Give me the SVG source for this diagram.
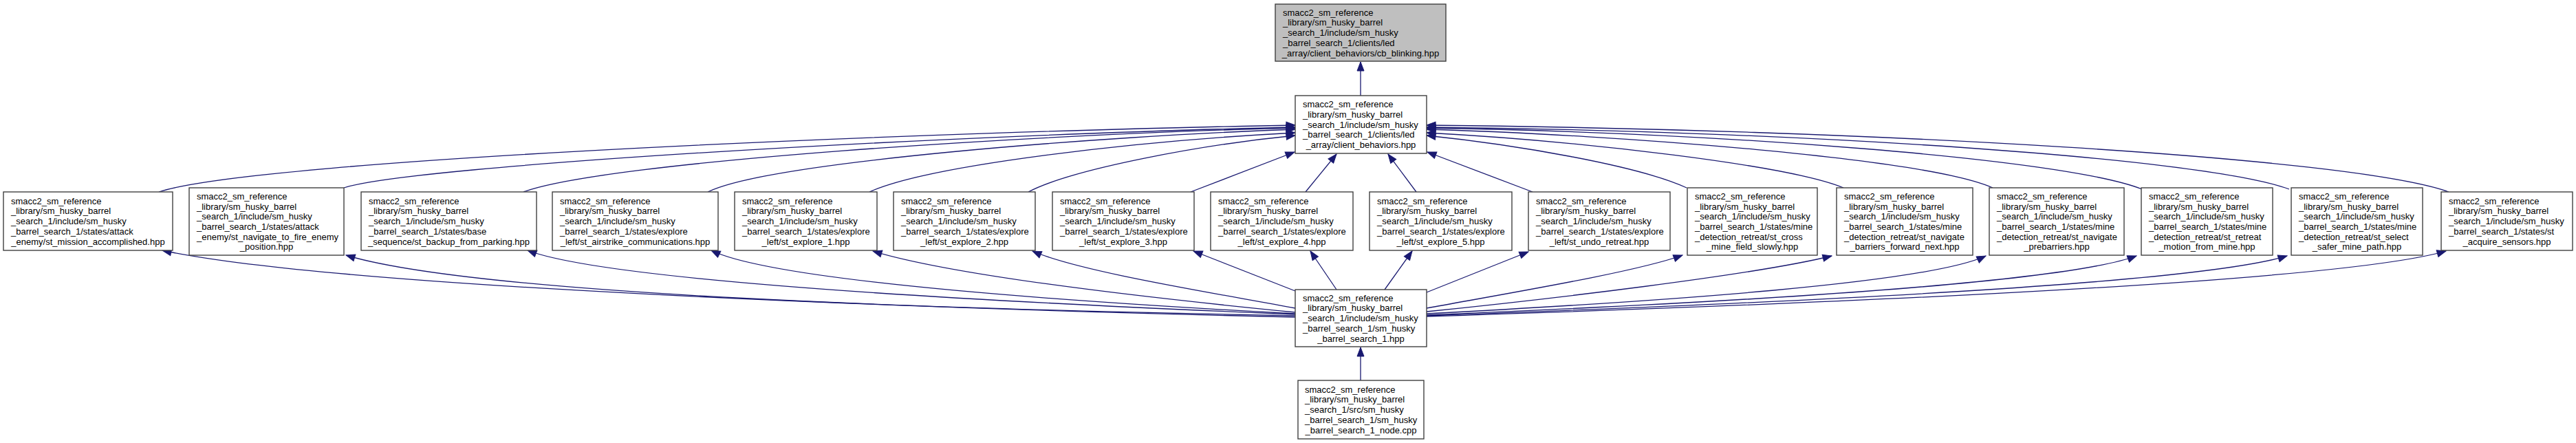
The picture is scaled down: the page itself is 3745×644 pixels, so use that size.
<svg xmlns="http://www.w3.org/2000/svg" width="3745" height="644" viewBox="0 0 3745 644">
<style>
  .n rect { fill: #ffffff; stroke: #404040; stroke-width: 1.4; }
  .n.root rect { fill: #bfbfbf; }
  .n text { font-family: "Liberation Sans", Arial, Helvetica, sans-serif; font-size: 13px; fill: #000000; }
  .n text .c { text-anchor: middle; }
  .e path { fill: none; stroke: #191970; stroke-width: 1.3; marker-end: url(#ah); }
</style>
<defs>
  <marker id="ah" markerUnits="userSpaceOnUse" markerWidth="15" markerHeight="12" viewBox="0 0 15 12" refX="14" refY="6" orient="auto">
    <path d="M1,1 L14,6 L1,11 Z" fill="#191970" stroke="#191970" stroke-width="1"/>
  </marker>
</defs>
<rect x="0" y="0" width="3745" height="644" fill="#ffffff"/>

<g id="edges" class="e">
  <!-- middle -> top -->
  <path d="M1978,139 L1978,90"/>
  <!-- cpp -> hub -->
  <path d="M1978,553 L1978,505"/>
  <!-- row boxes -> client_behaviors.hpp -->
  <path d="M231,279 C380,230 1400,190 1883,182"/>
  <path d="M500,273 C600,240 1400,195 1883,185"/>
  <path d="M761,279 C880,235 1500,195 1883,186"/>
  <path d="M1029,279 C1120,235 1600,198 1883,188"/>
  <path d="M1264,279 C1350,240 1650,205 1883,193"/>
  <path d="M1495,279 C1560,245 1750,210 1883,197"/>
  <path d="M1731,279 L1882,221"/>
  <path d="M1898,279 L1943,224"/>
  <path d="M2059,279 L2018,224"/>
  <path d="M2228,279 L2075,221"/>
  <path d="M2452,273 C2380,240 2200,210 2074,197"/>
  <path d="M2680,273 C2600,240 2300,205 2074,193"/>
  <path d="M2897,273 C2800,230 2350,196 2074,188"/>
  <path d="M3114,275 C3000,230 2500,193 2074,186"/>
  <path d="M3328,275 C3200,228 2600,190 2074,185"/>
  <path d="M3560,279 C3420,228 2700,188 2074,182"/>
  <!-- hub -> row boxes -->
  <path d="M1883,461 C1400,450 500,420 236,364"/>
  <path d="M1883,459 C1400,450 700,430 503,371"/>
  <path d="M1883,457 C1414,438 885,409 767,364"/>
  <path d="M1883,456 C1526,437 1124,408 1034,364"/>
  <path d="M1883,454 C1700,436 1390,402 1269,365"/>
  <path d="M1883,448 C1760,425 1570,395 1501,365"/>
  <path d="M1883,423 L1735,365"/>
  <path d="M1943,421 L1905,365"/>
  <path d="M2013,421 L2053,365"/>
  <path d="M2074,425 L2222,366"/>
  <path d="M2074,448 C2200,425 2380,395 2446,371"/>
  <path d="M2074,453 C2250,435 2550,400 2663,372"/>
  <path d="M2074,456 C2415,438 2801,412 2887,372"/>
  <path d="M2074,458 C2507,440 2996,413 3106,372"/>
  <path d="M2074,459 C2599,440 3192,413 3325,372"/>
  <path d="M2074,460 C2700,440 3400,410 3556,365"/>
</g>

<g id="node_top" class="n root">
  <rect x="1854" y="6" width="248" height="83"/>
  <text><tspan x="1865" y="22.7">smacc2_sm_reference</tspan><tspan x="1865" y="37.4">_library/sm_husky_barrel</tspan><tspan x="1865" y="52.1">_search_1/include/sm_husky</tspan><tspan x="1865" y="66.8">_barrel_search_1/clients/led</tspan><tspan class="c" x="1978" y="81.5">_array/client_behaviors/cb_blinking.hpp</tspan></text>
</g>

<g id="node_client_behaviors" class="n">
  <rect x="1883" y="139" width="191" height="84"/>
  <text><tspan x="1894" y="156.2">smacc2_sm_reference</tspan><tspan x="1894" y="170.9">_library/sm_husky_barrel</tspan><tspan x="1894" y="185.6">_search_1/include/sm_husky</tspan><tspan x="1894" y="200.3">_barrel_search_1/clients/led</tspan><tspan class="c" x="1978.5" y="215">_array/client_behaviors.hpp</tspan></text>
</g>

<g id="node_st_mission_accomplished" class="n">
  <rect x="5" y="279" width="246" height="85"/>
  <text><tspan x="16" y="296.7">smacc2_sm_reference</tspan><tspan x="16" y="311.4">_library/sm_husky_barrel</tspan><tspan x="16" y="326.1">_search_1/include/sm_husky</tspan><tspan x="16" y="340.8">_barrel_search_1/states/attack</tspan><tspan class="c" x="128" y="355.5">_enemy/st_mission_accomplished.hpp</tspan></text>
</g>

<g id="node_st_navigate_to_fire_enemy_position" class="n">
  <rect x="275" y="273" width="225" height="98"/>
  <text><tspan x="286" y="289.9">smacc2_sm_reference</tspan><tspan x="286" y="304.6">_library/sm_husky_barrel</tspan><tspan x="286" y="319.3">_search_1/include/sm_husky</tspan><tspan x="286" y="334">_barrel_search_1/states/attack</tspan><tspan x="286" y="348.7">_enemy/st_navigate_to_fire_enemy</tspan><tspan class="c" x="387.5" y="363.4">_position.hpp</tspan></text>
</g>

<g id="node_st_backup_from_parking" class="n">
  <rect x="525" y="279" width="255" height="85"/>
  <text><tspan x="536" y="296.7">smacc2_sm_reference</tspan><tspan x="536" y="311.4">_library/sm_husky_barrel</tspan><tspan x="536" y="326.1">_search_1/include/sm_husky</tspan><tspan x="536" y="340.8">_barrel_search_1/states/base</tspan><tspan class="c" x="652.5" y="355.5">_sequence/st_backup_from_parking.hpp</tspan></text>
</g>

<g id="node_st_airstrike_communications" class="n">
  <rect x="803" y="279" width="241" height="85"/>
  <text><tspan x="814" y="296.7">smacc2_sm_reference</tspan><tspan x="814" y="311.4">_library/sm_husky_barrel</tspan><tspan x="814" y="326.1">_search_1/include/sm_husky</tspan><tspan x="814" y="340.8">_barrel_search_1/states/explore</tspan><tspan class="c" x="923.5" y="355.5">_left/st_airstrike_communications.hpp</tspan></text>
</g>

<g id="node_st_explore_1" class="n">
  <rect x="1068" y="279" width="207" height="85"/>
  <text><tspan x="1079" y="296.7">smacc2_sm_reference</tspan><tspan x="1079" y="311.4">_library/sm_husky_barrel</tspan><tspan x="1079" y="326.1">_search_1/include/sm_husky</tspan><tspan x="1079" y="340.8">_barrel_search_1/states/explore</tspan><tspan class="c" x="1171.5" y="355.5">_left/st_explore_1.hpp</tspan></text>
</g>

<g id="node_st_explore_2" class="n">
  <rect x="1299" y="279" width="206" height="85"/>
  <text><tspan x="1310" y="296.7">smacc2_sm_reference</tspan><tspan x="1310" y="311.4">_library/sm_husky_barrel</tspan><tspan x="1310" y="326.1">_search_1/include/sm_husky</tspan><tspan x="1310" y="340.8">_barrel_search_1/states/explore</tspan><tspan class="c" x="1402" y="355.5">_left/st_explore_2.hpp</tspan></text>
</g>

<g id="node_st_explore_3" class="n">
  <rect x="1530" y="279" width="206" height="85"/>
  <text><tspan x="1541" y="296.7">smacc2_sm_reference</tspan><tspan x="1541" y="311.4">_library/sm_husky_barrel</tspan><tspan x="1541" y="326.1">_search_1/include/sm_husky</tspan><tspan x="1541" y="340.8">_barrel_search_1/states/explore</tspan><tspan class="c" x="1633" y="355.5">_left/st_explore_3.hpp</tspan></text>
</g>

<g id="node_st_explore_4" class="n">
  <rect x="1760" y="279" width="207" height="85"/>
  <text><tspan x="1771" y="296.7">smacc2_sm_reference</tspan><tspan x="1771" y="311.4">_library/sm_husky_barrel</tspan><tspan x="1771" y="326.1">_search_1/include/sm_husky</tspan><tspan x="1771" y="340.8">_barrel_search_1/states/explore</tspan><tspan class="c" x="1863.5" y="355.5">_left/st_explore_4.hpp</tspan></text>
</g>

<g id="node_st_explore_5" class="n">
  <rect x="1991" y="279" width="207" height="85"/>
  <text><tspan x="2002" y="296.7">smacc2_sm_reference</tspan><tspan x="2002" y="311.4">_library/sm_husky_barrel</tspan><tspan x="2002" y="326.1">_search_1/include/sm_husky</tspan><tspan x="2002" y="340.8">_barrel_search_1/states/explore</tspan><tspan class="c" x="2094.5" y="355.5">_left/st_explore_5.hpp</tspan></text>
</g>

<g id="node_st_undo_retreat" class="n">
  <rect x="2222" y="279" width="206" height="85"/>
  <text><tspan x="2233" y="296.7">smacc2_sm_reference</tspan><tspan x="2233" y="311.4">_library/sm_husky_barrel</tspan><tspan x="2233" y="326.1">_search_1/include/sm_husky</tspan><tspan x="2233" y="340.8">_barrel_search_1/states/explore</tspan><tspan class="c" x="2325" y="355.5">_left/st_undo_retreat.hpp</tspan></text>
</g>

<g id="node_st_cross_mine_field_slowly" class="n">
  <rect x="2453" y="273" width="189" height="98"/>
  <text><tspan x="2464" y="289.9">smacc2_sm_reference</tspan><tspan x="2464" y="304.6">_library/sm_husky_barrel</tspan><tspan x="2464" y="319.3">_search_1/include/sm_husky</tspan><tspan x="2464" y="334">_barrel_search_1/states/mine</tspan><tspan x="2464" y="348.7">_detection_retreat/st_cross</tspan><tspan class="c" x="2547.5" y="363.4">_mine_field_slowly.hpp</tspan></text>
</g>

<g id="node_st_navigate_barriers_forward_next" class="n">
  <rect x="2670" y="273" width="198" height="98"/>
  <text><tspan x="2681" y="289.9">smacc2_sm_reference</tspan><tspan x="2681" y="304.6">_library/sm_husky_barrel</tspan><tspan x="2681" y="319.3">_search_1/include/sm_husky</tspan><tspan x="2681" y="334">_barrel_search_1/states/mine</tspan><tspan x="2681" y="348.7">_detection_retreat/st_navigate</tspan><tspan class="c" x="2769" y="363.4">_barriers_forward_next.hpp</tspan></text>
</g>

<g id="node_st_navigate_prebarriers" class="n">
  <rect x="2892" y="273" width="196" height="98"/>
  <text><tspan x="2903" y="289.9">smacc2_sm_reference</tspan><tspan x="2903" y="304.6">_library/sm_husky_barrel</tspan><tspan x="2903" y="319.3">_search_1/include/sm_husky</tspan><tspan x="2903" y="334">_barrel_search_1/states/mine</tspan><tspan x="2903" y="348.7">_detection_retreat/st_navigate</tspan><tspan class="c" x="2990" y="363.4">_prebarriers.hpp</tspan></text>
</g>

<g id="node_st_retreat_motion_from_mine" class="n">
  <rect x="3113" y="273" width="191" height="98"/>
  <text><tspan x="3124" y="289.9">smacc2_sm_reference</tspan><tspan x="3124" y="304.6">_library/sm_husky_barrel</tspan><tspan x="3124" y="319.3">_search_1/include/sm_husky</tspan><tspan x="3124" y="334">_barrel_search_1/states/mine</tspan><tspan x="3124" y="348.7">_detection_retreat/st_retreat</tspan><tspan class="c" x="3208.5" y="363.4">_motion_from_mine.hpp</tspan></text>
</g>

<g id="node_st_select_safer_mine_path" class="n">
  <rect x="3331" y="273" width="191" height="98"/>
  <text><tspan x="3342" y="289.9">smacc2_sm_reference</tspan><tspan x="3342" y="304.6">_library/sm_husky_barrel</tspan><tspan x="3342" y="319.3">_search_1/include/sm_husky</tspan><tspan x="3342" y="334">_barrel_search_1/states/mine</tspan><tspan x="3342" y="348.7">_detection_retreat/st_select</tspan><tspan class="c" x="3426.5" y="363.4">_safer_mine_path.hpp</tspan></text>
</g>

<g id="node_st_acquire_sensors" class="n">
  <rect x="3549" y="279" width="191" height="85"/>
  <text><tspan x="3560" y="296.7">smacc2_sm_reference</tspan><tspan x="3560" y="311.4">_library/sm_husky_barrel</tspan><tspan x="3560" y="326.1">_search_1/include/sm_husky</tspan><tspan x="3560" y="340.8">_barrel_search_1/states/st</tspan><tspan class="c" x="3644.5" y="355.5">_acquire_sensors.hpp</tspan></text>
</g>

<g id="node_sm_husky_barrel_search_1" class="n">
  <rect x="1883" y="421" width="191" height="83"/>
  <text><tspan x="1894" y="437.7">smacc2_sm_reference</tspan><tspan x="1894" y="452.4">_library/sm_husky_barrel</tspan><tspan x="1894" y="467.1">_search_1/include/sm_husky</tspan><tspan x="1894" y="481.8">_barrel_search_1/sm_husky</tspan><tspan class="c" x="1978.5" y="496.5">_barrel_search_1.hpp</tspan></text>
</g>

<g id="node_sm_husky_barrel_search_1_node" class="n">
  <rect x="1887" y="553" width="183" height="85"/>
  <text><tspan x="1897" y="570.7">smacc2_sm_reference</tspan><tspan x="1897" y="585.4">_library/sm_husky_barrel</tspan><tspan x="1897" y="600.1">_search_1/src/sm_husky</tspan><tspan x="1897" y="614.8">_barrel_search_1/sm_husky</tspan><tspan class="c" x="1978.5" y="629.5">_barrel_search_1_node.cpp</tspan></text>
</g>
</svg>
